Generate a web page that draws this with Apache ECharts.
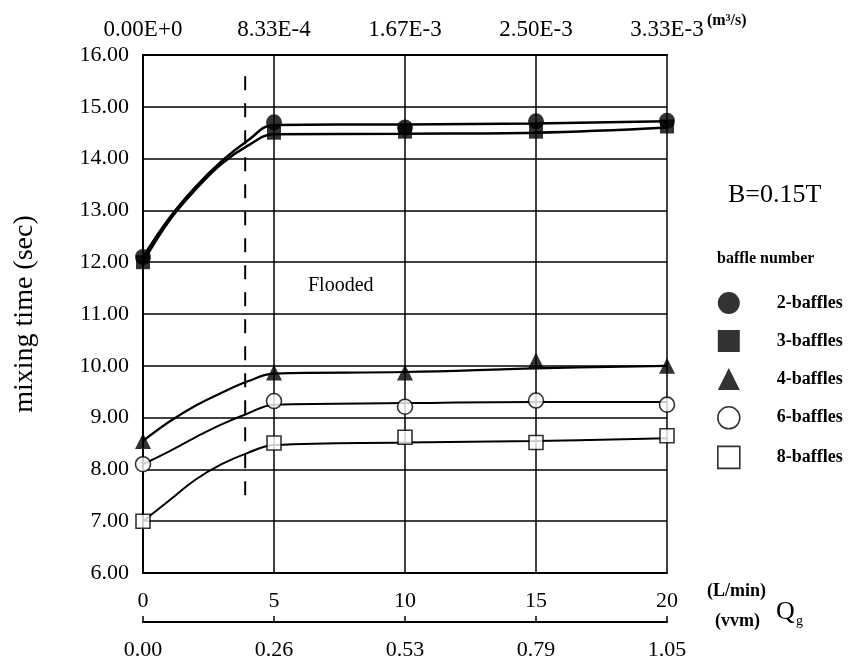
<!DOCTYPE html>
<html>
<head>
<meta charset="utf-8">
<script src="https://cdn.jsdelivr.net/npm/echarts@6/dist/echarts.min.js"></script>
<style>
  html, body { margin: 0; padding: 0; background: #fff; }
  #chart { width: 852px; height: 661px; }
</style>
</head>
<body>
<div id="chart"></div>
<script>
// gas flow rate Qg (L/min) at measured points
const flowRates = [0, 5, 10, 15, 20];
// secondary tick labels
const flowM3s = ['0.00E+0', '8.33E-4', '1.67E-3', '2.50E-3', '3.33E-3'];
const flowVvm = ['0.00', '0.26', '0.53', '0.79', '1.05'];

// measured mixing times (sec)
const baffles2 = [12.1, 14.7, 14.6, 14.72, 14.73];
const baffles3 = [12.0, 14.5, 14.52, 14.52, 14.62];
const baffles4 = [8.55, 9.87, 9.87, 10.1, 10.0];
const baffles6 = [8.1, 9.32, 9.21, 9.33, 9.25];
const baffles8 = [7.0, 8.51, 8.62, 8.52, 8.65];

// fitted curves
const curveX = [0, 1, 2, 3, 4, 5, 10, 15, 20];
const fit2 = [12.1, 12.85, 13.45, 13.95, 14.35, 14.65, 14.66, 14.68, 14.72];
const fit3 = [12.0, 12.8, 13.4, 13.9, 14.25, 14.47, 14.48, 14.5, 14.6];
const fit4 = [8.55, 8.92, 9.23, 9.48, 9.7, 9.85, 9.88, 9.95, 10.0];
const fit6 = [8.1, 8.35, 8.62, 8.87, 9.08, 9.25, 9.28, 9.3, 9.3];
const fit8 = [7.0, 7.4, 7.8, 8.1, 8.32, 8.47, 8.52, 8.55, 8.6];

// flooding boundary (dashed)
const floodX = 3.9;
const floodRange = [7.5, 15.6];

const serif = '"Liberation Serif", "DejaVu Serif", serif';

const pairs = (xs, ys) => xs.map((x, i) => [x, ys[i]]);

let chart = echarts.init(document.getElementById('chart'));

const fitLine = (ys, w) => ({
    type: 'line',
    data: pairs(curveX, ys),
    smooth: 0.4,
    showSymbol: false,
    silent: true,
    lineStyle: {color: '#000', width: w},
    z: 2
});

const markers = (name, ys, symbol, size, filled) => ({
    name,
    type: 'scatter',
    data: pairs(flowRates, ys),
    symbol,
    symbolSize: size,
    itemStyle: {
        color: filled ? '#000' : '#fff',
        borderColor: '#000',
        borderWidth: filled ? 0 : 1.6
    },
    z: 5
});

chart.setOption({
    backgroundColor: '#fff',
    animation: false,
    grid: {left: 143, right: 185, top: 55, bottom: 88},
    legend: {
        orient: 'vertical',
        left: 712,
        top: 287,
        itemWidth: 22,
        itemHeight: 22,
        itemGap: 16,
        textStyle: {fontFamily: serif, fontSize: 18, fontWeight: 'bold', color: '#000', padding: [0, 0, 0, 32]},
        data: [
            {name: '2-baffles', icon: 'circle', itemStyle: {color: '#000'}},
            {name: '3-baffles', icon: 'rect', itemStyle: {color: '#000'}},
            {name: '4-baffles', icon: 'triangle', itemStyle: {color: '#000'}},
            {name: '6-baffles', icon: 'circle', itemStyle: {color: '#fff', borderColor: '#000', borderWidth: 1.6}},
            {name: '8-baffles', icon: 'rect', itemStyle: {color: '#fff', borderColor: '#000', borderWidth: 1.6}}
        ]
    },
    xAxis: [
        {
            type: 'value', position: 'bottom', min: 0, max: 20, interval: 5,
            axisLine: {lineStyle: {color: '#000', width: 2}},
            axisTick: {show: false},
            splitLine: {lineStyle: {color: '#000', width: 1.5}},
            axisLabel: {color: '#000', fontFamily: serif, fontSize: 22, margin: 17}
        },
        {
            type: 'value', position: 'top', min: 0, max: 20, interval: 5,
            axisLine: {lineStyle: {color: '#000', width: 2}},
            axisTick: {show: false},
            splitLine: {show: false},
            axisLabel: {color: '#000', fontFamily: serif, fontSize: 23, margin: 14,
                formatter: v => flowM3s[v / 5]}
        },
        {
            type: 'value', position: 'bottom', offset: 49, min: 0, max: 20, interval: 5,
            axisLine: {lineStyle: {color: '#000', width: 2}},
            axisTick: {show: true, inside: true, length: 6, lineStyle: {color: '#000', width: 1.5}},
            splitLine: {show: false},
            axisLabel: {color: '#000', fontFamily: serif, fontSize: 22, margin: 17,
                formatter: v => flowVvm[v / 5]}
        }
    ],
    yAxis: {
        type: 'value', min: 6, max: 16, interval: 1,
        name: 'mixing time (sec)',
        nameLocation: 'middle',
        nameGap: 104,
        nameTextStyle: {color: '#000', fontFamily: serif, fontSize: 28},
        axisLine: {show: true, lineStyle: {color: '#000', width: 2}},
        axisTick: {show: false},
        splitLine: {lineStyle: {color: '#000', width: 1.5}},
        axisLabel: {color: '#000', fontFamily: serif, fontSize: 22, margin: 14,
            formatter: v => v.toFixed(2)}
    },
    graphic: [
        {type: 'text', left: 707, top: 13, style: {text: '(m³/s)', font: 'bold 16px ' + serif, fill: '#000'}},
        {type: 'text', left: 728, top: 182, style: {text: 'B=0.15T', font: '26px ' + serif, fill: '#000'}},
        {type: 'text', left: 717, top: 251, style: {text: 'baffle number', font: 'bold 16px ' + serif, fill: '#000'}},
        {type: 'text', left: 308, top: 276, style: {text: 'Flooded', font: '20px ' + serif, fill: '#000'}},
        {type: 'text', left: 707, top: 582, style: {text: '(L/min)', font: 'bold 18px ' + serif, fill: '#000'}},
        {type: 'text', left: 715, top: 612, style: {text: '(vvm)', font: 'bold 18px ' + serif, fill: '#000'}},
        {type: 'text', left: 776, top: 599, style: {text: 'Q', font: '26px ' + serif, fill: '#000'}},
        {type: 'text', left: 796, top: 614, style: {text: 'g', font: '14px ' + serif, fill: '#000'}}
    ],
    series: [
        fitLine(fit2, 2.5),
        fitLine(fit3, 2.5),
        fitLine(fit4, 2.2),
        fitLine(fit6, 2),
        fitLine(fit8, 2),
        {
            type: 'line',
            data: [[floodX, floodRange[0]], [floodX, floodRange[1]]],
            showSymbol: false,
            silent: true,
            lineStyle: {color: '#000', width: 2, type: [14, 13]},
            z: 1
        },
        markers('2-baffles', baffles2, 'circle', 16, true),
        markers('3-baffles', baffles3, 'rect', 14, true),
        markers('4-baffles', baffles4, 'triangle', 16, true),
        markers('6-baffles', baffles6, 'circle', 15, false),
        markers('8-baffles', baffles8, 'rect', 14, false)
    ]
});
</script>
</body>
</html>
